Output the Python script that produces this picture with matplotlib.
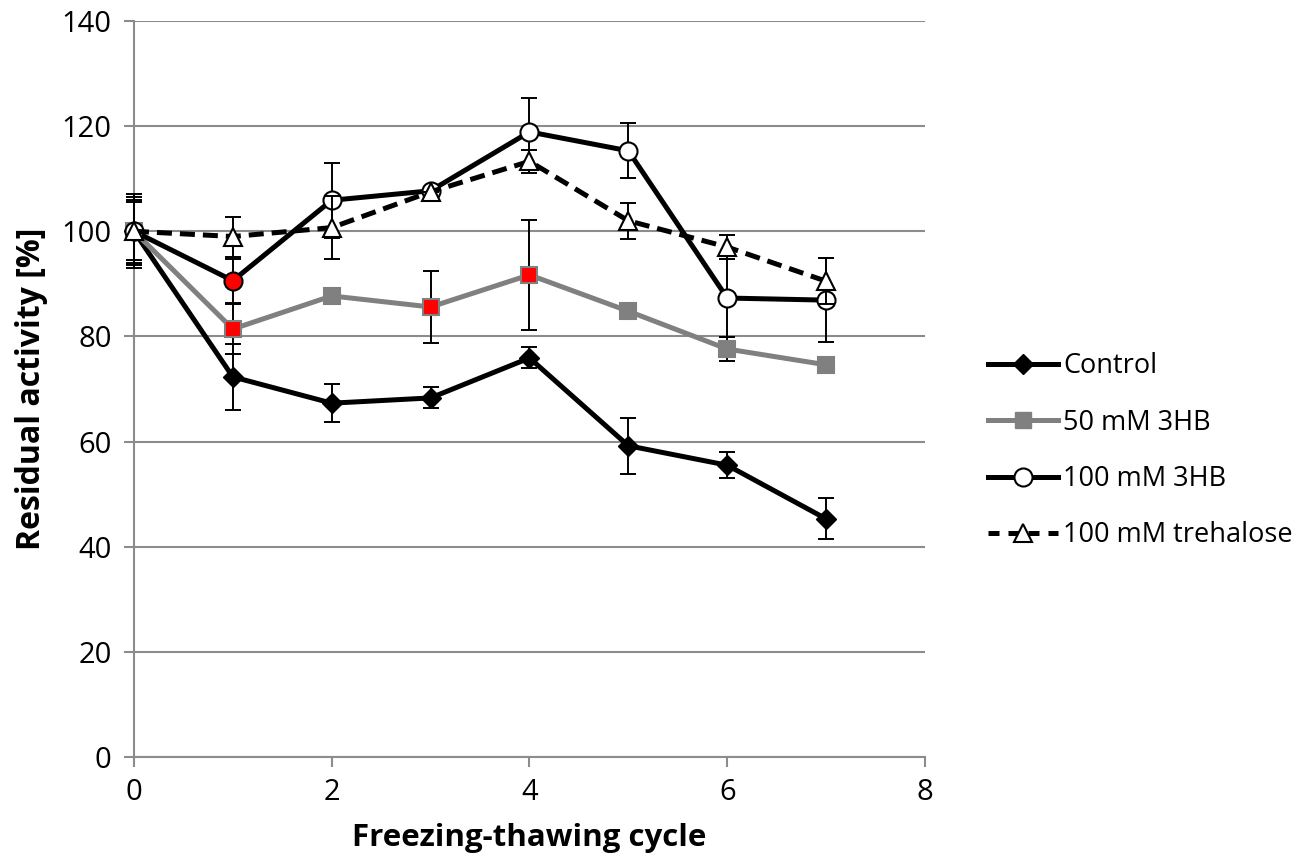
import matplotlib
matplotlib.use("Agg")
import matplotlib.pyplot as plt
from matplotlib.lines import Line2D

plt.rcParams['font.family'] = ['Open Sans', 'DejaVu Sans']

cycles = [0, 1, 2, 3, 4, 5, 6, 7]

control = [100, 72.3, 67.3, 68.3, 75.9, 59.2, 55.5, 45.3]
control_err = [6.5, 6.3, 3.6, 2.0, 2.0, 5.3, 2.5, 3.9]

hb50 = [100, 81.4, 87.7, 85.6, 91.7, 84.8, 77.6, 74.6]
hb50_err = [5.5, 4.8, 0, 6.8, 10.5, 0, 2.2, 0]
hb50_face = ['#808080', 'red', '#808080', 'red', 'red', '#808080', '#808080', '#808080']

hb100 = [100, 90.6, 105.9, 107.7, 118.9, 115.3, 87.3, 86.9]
hb100_err = [7.0, 4.2, 7.1, 0, 6.5, 5.2, 7.4, 8.0]
hb100_face = ['white', 'red', 'white', 'white', 'white', 'white', 'white', 'white']

treh = [100, 99.0, 100.7, 107.5, 113.3, 102.0, 97.0, 90.5]
treh_err = [6.0, 3.8, 6.0, 0, 2.2, 3.4, 2.3, 4.4]

labels = ['Control', '50 mM 3HB', '100 mM 3HB', '100 mM trehalose']

fig = plt.figure(figsize=(13.07, 8.67), dpi=100)
ax = fig.add_axes([0.1025, 0.1269, 0.6052, 0.8489])

lw = 3.6
ekw = dict(ecolor='black', elinewidth=1.4, capsize=6, capthick=1.4, fmt='none')

def eb(y, err, z):
    c = ax.errorbar(cycles, y, yerr=err, zorder=z, **ekw)
    for art in c.lines[1]:
        art.set_clip_on(False)
    for col in c.lines[2]:
        col.set_clip_on(False)

# Control
eb(control, control_err, 3)
ax.plot(cycles, control, color='black', lw=lw, marker='D', ms=10,
        mfc='black', mec='black', zorder=4, clip_on=False)

# 50 mM 3HB
eb(hb50, hb50_err, 5)
ax.plot(cycles, hb50, color='#808080', lw=lw, zorder=6, clip_on=False)
for x, y, fc in zip(cycles, hb50, hb50_face):
    ax.plot(x, y, marker='s', ms=12, mfc=fc, mec='#808080', mew=1.5, zorder=7, clip_on=False)

# 100 mM 3HB
eb(hb100, hb100_err, 8)
ax.plot(cycles, hb100, color='black', lw=lw, zorder=9, clip_on=False)
for x, y, fc in zip(cycles, hb100, hb100_face):
    ax.plot(x, y, marker='o', ms=13, mfc=fc, mec='black', mew=1.5, zorder=10, clip_on=False)

# trehalose
eb(treh, treh_err, 11)
ax.plot(cycles, treh, color='black', lw=lw, ls=(0, (3, 1.6)), marker='^', ms=13,
        mfc='white', mec='black', mew=1.5, zorder=12, clip_on=False)

ax.set_xlim(0, 8)
ax.set_ylim(0, 140)
ax.set_xticks([0, 2, 4, 6, 8])
ax.set_yticks(range(0, 141, 20))
ax.grid(axis='y', color='#8c8c8c', lw=1.5)
ax.set_axisbelow(True)
for s in ['top', 'right']:
    ax.spines[s].set_visible(False)
for s in ['left', 'bottom']:
    ax.spines[s].set_color('#8c8c8c')
    ax.spines[s].set_linewidth(1.5)
ax.tick_params(axis='both', labelsize=21, color='#8c8c8c', width=1.5, length=7)
ax.tick_params(axis='y', pad=9)
ax.tick_params(axis='x', pad=8)
ax.set_xlabel('Freezing-thawing cycle', fontsize=22.5, fontweight='bold', labelpad=12)
ax.set_ylabel('Residual activity [%]', fontsize=23, fontweight='bold', labelpad=10)

handles = [
    Line2D([], [], color='black', lw=lw, marker='D', ms=10, mfc='black', mec='black'),
    Line2D([], [], color='#808080', lw=lw, marker='s', ms=12, mfc='#808080', mec='#808080'),
    Line2D([], [], color='black', lw=lw, marker='o', ms=13, mfc='white', mec='black', mew=1.5),
    Line2D([], [], color='black', lw=lw, ls=(0, (2.2, 1.8)), marker='^', ms=13, mfc='white', mec='black', mew=1.5),
]
fig.legend(handles, labels, loc='center left', bbox_to_anchor=(0.737, 0.48),
           frameon=False, fontsize=19.5, handlelength=2.6, handletextpad=0.2,
           labelspacing=1.05)

fig.savefig('out.png', dpi=100)
